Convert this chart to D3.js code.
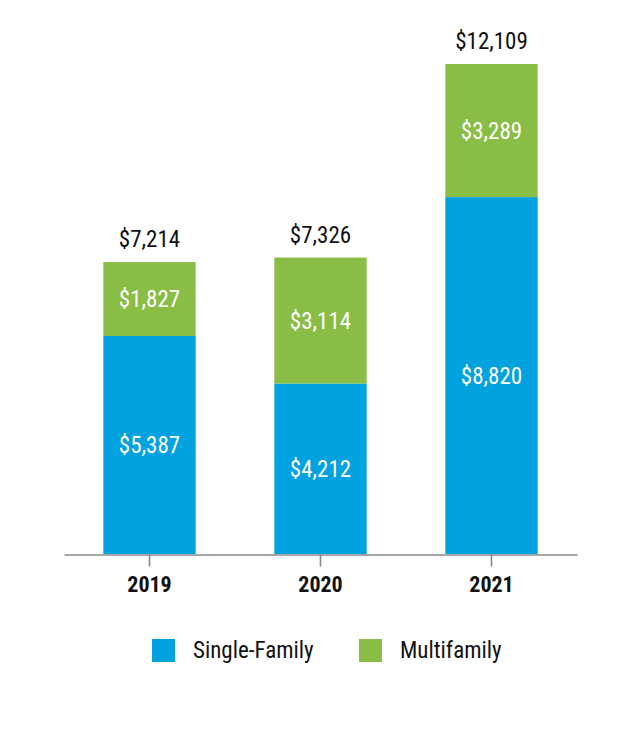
<!DOCTYPE html>
<html>
<head>
<meta charset="utf-8">
<script src="https://cdn.jsdelivr.net/npm/d3@7"></script>
<style>
  html, body { margin: 0; padding: 0; background: #ffffff; }
  svg text { font-family: "Liberation Sans Narrow", "Roboto Condensed", "DejaVu Sans Condensed", "Liberation Sans", sans-serif; }
</style>
</head>
<body>
<svg id="chart" width="640" height="740"></svg>
<script>
const years = ["2019", "2020", "2021"];
const singleFamily = [5387, 4212, 8820];
const multifamily = [1827, 3114, 3289];
const totals = [7214, 7326, 12109];
const seriesNames = ["Single-Family", "Multifamily"];
const seriesColors = ["#00a2df", "#8abd45"];

const svg = d3.select("#chart");

const x = d3.scaleBand()
  .domain(years)
  .range([64, 577])
  .paddingInner(0.46)
  .paddingOuter(0.23);

const y = d3.scaleLinear()
  .domain([0, 12109])
  .range([554, 64]);

const fmt = v => "$" + d3.format(",")(v);

const rows = years.map((yr, i) => ({ year: yr, "Single-Family": singleFamily[i], "Multifamily": multifamily[i], total: totals[i] }));
const stack = d3.stack().keys(seriesNames)(rows);

const layers = svg.selectAll("g.layer")
  .data(stack)
  .join("g")
  .attr("class", "layer")
  .attr("fill", (d, i) => seriesColors[i]);

layers.selectAll("rect")
  .data(d => d)
  .join("rect")
  .attr("x", d => x(d.data.year))
  .attr("width", x.bandwidth())
  .attr("y", d => y(d[1]))
  .attr("height", d => y(d[0]) - y(d[1]));

// inner value labels
stack.forEach(layer => {
  svg.append("g").selectAll("text")
    .data(layer)
    .join("text")
    .attr("x", d => x(d.data.year) + x.bandwidth() / 2)
    .attr("y", d => (y(d[0]) + y(d[1])) / 2 + 8)
    .attr("text-anchor", "middle")
    .attr("fill", "#ffffff")
    .attr("font-size", 23)
    .text(d => fmt(d[1] - d[0]));
});

// total labels
svg.append("g").selectAll("text")
  .data(rows)
  .join("text")
  .attr("x", d => x(d.year) + x.bandwidth() / 2)
  .attr("y", d => y(d.total) - 15)
  .attr("text-anchor", "middle")
  .attr("fill", "#111111")
  .attr("font-size", 23)
  .text(d => fmt(d.total));

// x axis
const axis = svg.append("g")
  .attr("transform", "translate(0,554.5)")
  .call(d3.axisBottom(x).tickSizeInner(12).tickSizeOuter(0).tickPadding(10));
axis.select(".domain").attr("stroke", "#888888").attr("stroke-width", 1.6);
axis.selectAll(".tick line").attr("stroke", "#888888").attr("stroke-width", 1.6);
axis.selectAll(".tick text")
  .attr("font-size", 22)
  .attr("font-weight", "bold")
  .attr("fill", "#111111")
  .attr("font-family", "\"Liberation Sans Narrow\", \"Roboto Condensed\", \"DejaVu Sans Condensed\", sans-serif");

// legend
const legendX = [152, 359];
const legend = svg.append("g").selectAll("g")
  .data(seriesNames)
  .join("g")
  .attr("transform", (d, i) => `translate(${legendX[i]},639)`);
legend.append("rect")
  .attr("width", 23)
  .attr("height", 23)
  .attr("fill", (d, i) => seriesColors[i]);
legend.append("text")
  .attr("x", 41)
  .attr("y", 19)
  .attr("font-size", 23)
  .attr("fill", "#111111")
  .text(d => d);
</script>
</body>
</html>
